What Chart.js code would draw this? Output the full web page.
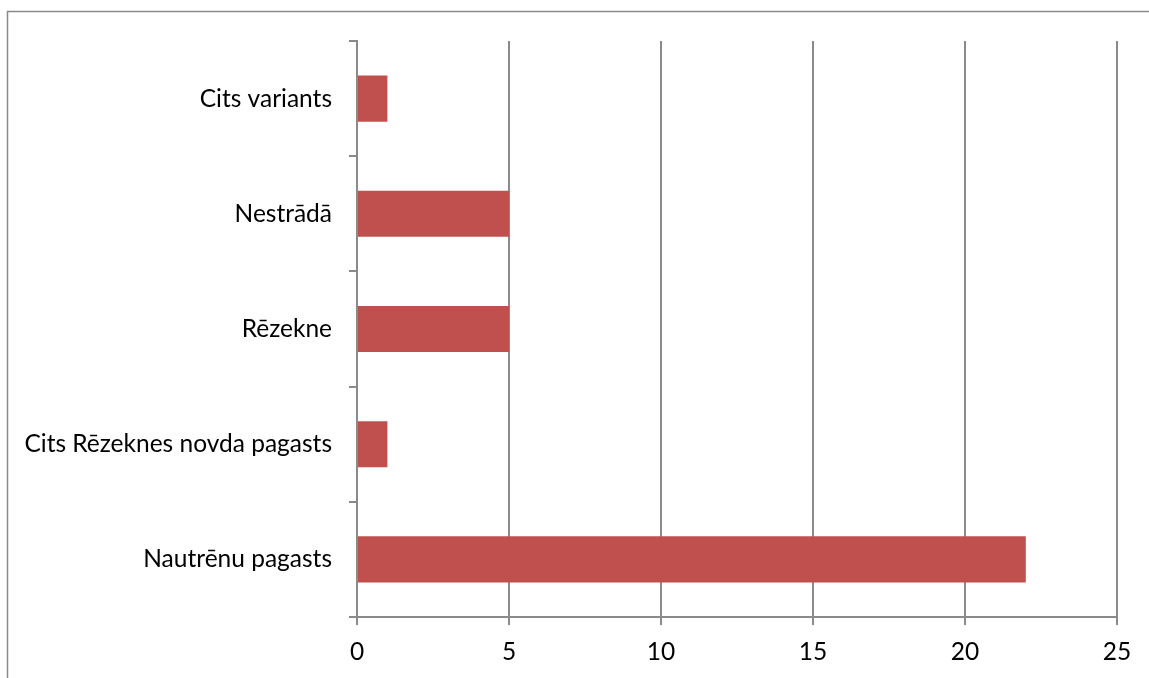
<!DOCTYPE html>
<html>
<head>
<meta charset="utf-8">
<script src="https://cdn.jsdelivr.net/npm/chart.js@4"></script>
<style>
  html, body { margin: 0; padding: 0; background: #fff; overflow: hidden; }
  #wrap { width: 1149px; height: 678px; }
</style>
</head>
<body>
<div id="wrap"><canvas id="bar-chart" width="1149" height="678"></canvas></div>
<script>
var categories = ['Cits variants', 'Nestrādā', 'Rēzekne', 'Cits Rēzeknes novda pagasts', 'Nautrēnu pagasts'];
var values = [1, 5, 5, 1, 22];
var xTicks = [0, 5, 10, 15, 20, 25];

var gray = '#8a8a8a';

// frame around the chart (only left and top edges are visible)
var framePlugin = {
    id: 'frame',
    beforeDraw: function (chart) {
        var ctx = chart.ctx;
        ctx.save();
        ctx.strokeStyle = gray;
        ctx.lineWidth = 1.5;
        ctx.beginPath();
        ctx.moveTo(7.5, 678);
        ctx.lineTo(7.5, 11.5);
        ctx.lineTo(1149, 11.5);
        ctx.stroke();
        ctx.restore();
    }
};

var ctx = document.getElementById('bar-chart').getContext('2d');
var chart = new Chart(ctx, {
    type: 'bar',
    data: {
        labels: categories,
        datasets: [{
            data: values,
            backgroundColor: '#C0504D',
            borderWidth: 0,
            barPercentage: 0.4,
            categoryPercentage: 1
        }]
    },
    options: {
        indexAxis: 'y',
        responsive: false,
        animation: false,
        layout: { padding: { left: 0, top: 41, right: 32, bottom: 0 } },
        plugins: {
            legend: { display: false },
            tooltip: { enabled: false }
        },
        scales: {
            x: {
                min: xTicks[0],
                max: xTicks[xTicks.length - 1],
                afterBuildTicks: function (scale) {
                    scale.ticks = xTicks.map(function (v) { return { value: v }; });
                },
                afterFit: function (scale) { scale.height = 61; },
                grid: { color: gray, lineWidth: 2, tickLength: 8, drawTicks: true },
                border: { color: gray, width: 2 },
                ticks: {
                    color: '#000',
                    padding: 12,
                    font: { family: 'Lato', size: 24.5 }
                }
            },
            y: {
                afterFit: function (scale) { scale.width = 357; },
                grid: { offset: true, drawOnChartArea: false, drawTicks: true, tickLength: 8, color: gray, lineWidth: 2 },
                border: { color: gray, width: 2 },
                ticks: {
                    color: '#000',
                    padding: 17,
                    font: { family: 'Lato', size: 24.5 }
                }
            }
        }
    },
    plugins: [framePlugin]
});
</script>
</body>
</html>
